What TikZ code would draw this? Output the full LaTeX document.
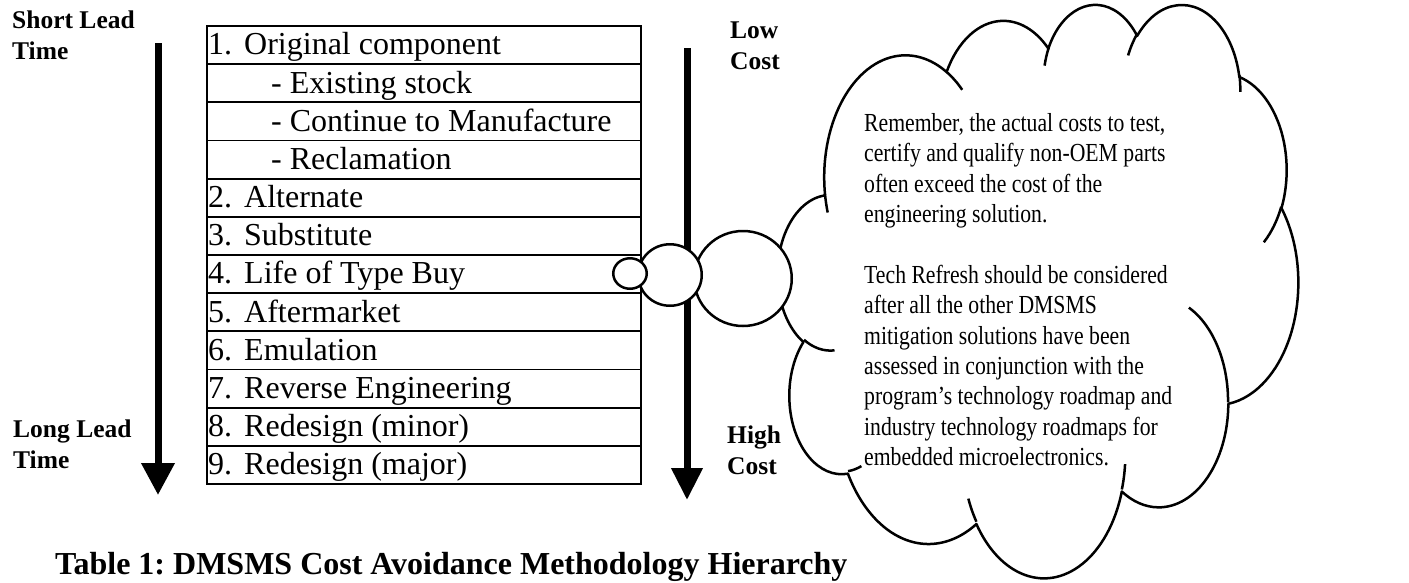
\documentclass[tikz,border=0pt]{standalone}
\usepackage{fontspec}
\setmainfont{Liberation Serif}
\newfontfamily\cloudfont[FakeStretch=0.835]{Liberation Serif}
\usetikzlibrary{arrows.meta, shapes.geometric}
\frenchspacing
\tikzstyle{cell}=[rectangle, draw, line width=1.8pt, minimum width=434pt, minimum height=38.17pt, inner sep=0pt]
\tikzstyle{item}=[anchor=base west, inner sep=0pt, font=\fontsize{32}{38}\selectfont]
\tikzstyle{side}=[anchor=north west, align=left, inner sep=0pt, font=\bfseries\fontsize{25.5}{31}\selectfont]
\tikzstyle{bubble}=[ellipse, draw, fill=white, line width=2.5pt, inner sep=0pt]
\tikzstyle{heavy}=[line width=7pt, -{Triangle[width=32pt, length=32pt]}]
\tikzstyle{puffline}=[line width=2.5pt, line join=round]
\tikzset{puff/.style n args={4}{x radius=#1, y radius=#2,
    start angle={atan2(#1*sin(#3), #2*cos(#3))},
    delta angle={Mod(atan2(#1*sin(#3+#4), #2*cos(#3+#4))-atan2(#1*sin(#3), #2*cos(#3)), 360)}}}

\begin{document}
\begin{tikzpicture}[x=1pt, y=-1pt]

\useasboundingbox (0,0) rectangle (1409,582);
\fill[white] (0,0) rectangle (1409,582);

% Table of options
\foreach \num/\gap/\entry [count=\r] in {1./244/Original component, /271/- Existing stock, /271/- Continue to Manufacture, /271/- Reclamation, 2./244/Alternate, 3./244/Substitute, 4./244/Life of Type Buy, 5./244/Aftermarket, 6./244/Emulation, 7./244/Reverse Engineering, 8./244/Redesign (minor), 9./244/Redesign (major)}
{
    \node[cell] (row\r) at (424, {26+38.17*(\r-0.5)}) {};
    \node[item] (num\r) at (208, {26+38.17*\r-9.2}) {\num};
    \node[item] (entry\r) at (\gap, {26+38.17*\r-9.2}) {\entry};
}

% Lead time
\node[side] (shortlead) at (12,11) {Short Lead\\Time};
\node[side] (longlead) at (13,419.6) {Long Lead\\Time};
\coordinate (leadtop) at (158,43);
\coordinate (leadend) at (158,495);
\draw[heavy] (leadtop) -- (leadend);

% Cost
\node[side] (lowcost) at (730,22) {Low\\Cost};
\node[side] (highcost) at (727,425.6) {High\\Cost};
\coordinate (costtop) at (687,48);
\coordinate (costend) at (687,500);
\draw[heavy, -{Triangle[width=30pt, length=32pt]}] (costtop) -- (costend);

% Cloud
\begin{scope}[shift={(778,3)}, x=1.204pt, y=-1.327pt]
  \draw[puffline, fill=white] (39,143.7)
    arc[puff={67.53}{91.90}{-190.4875}{123.7805}]
    arc[puff={53.33}{72.67}{-144.1024}{89.9452}]
    arc[puff={43.65}{59.45}{-145.8079}{99.7230}]
    arc[puff={48.57}{65.95}{-130.9861}{117.2417}]
    arc[puff={53.33}{72.73}{-78.7089}{109.0269}]
    arc[puff={67.75}{92.20}{-46.2673}{130.2690}]
    arc[puff={57.85}{78.67}{0.6250}{114.0333}]
    arc[puff={67.52}{92.15}{22.4516}{115.1726}]
    arc[puff={77.20}{105.43}{66.2426}{75.7110}]
    arc[puff={43.60}{59.18}{-274.9421}{146.7356}]
    arc[puff={43.45}{59.45}{-246.8285}{152.5189}]
    -- cycle;
  % inner ends of the puffs
  \draw[puffline] (46.93,261.77) arc[puff={43.45}{59.45}{86.742}{26.430}]
    (69.28,348.99) arc[puff={43.60}{59.18}{73.610}{11.447}]
    (164.78,390.90) arc[puff={67.52}{92.15}{137.624}{14.081}]
    (288.27,347.51) arc[puff={67.52}{92.15}{6.453}{15.998}]
    (341.29,229.54) arc[puff={57.85}{78.67}{-70.292}{70.917}]
    (417.98,153.54) arc[puff={53.33}{72.73}{30.318}{27.752}]
    (383.24,54.26) arc[puff={48.57}{65.95}{-13.744}{14.859}]
    (290.78,39.52) arc[puff={48.57}{65.95}{-149.181}{18.195}]
    (221.41,47.20) arc[puff={43.65}{59.45}{-163.494}{17.686}]
    (140.00,51.92) arc[puff={67.53}{91.90}{-66.707}{12.319}]
    (41.27,157.89) arc[puff={67.53}{91.90}{157.654}{11.858}];
\end{scope}

% Thought bubbles
\node[bubble, minimum width=97.5pt, minimum height=95pt] (bubblebig) at (743,278.5) {};
\node[bubble, minimum width=63.5pt, minimum height=61.5pt] (bubblemid) at (670,275) {};
\node[bubble, minimum width=33.5pt, minimum height=30.5pt] (bubblesmall) at (630,273.5) {};

\node[anchor=north west, align=left, inner sep=0pt, font=\cloudfont\fontsize{26}{30.4}\selectfont] (note) at (864,113) {Remember, the actual costs to test,\\certify and qualify non-OEM parts\\often exceed the cost of the\\engineering solution.\\[30.4pt]Tech Refresh should be considered\\after all the other DMSMS\\mitigation solutions have been\\assessed in conjunction with the\\program’s technology roadmap and\\industry technology roadmaps for\\embedded microelectronics.};

\node[anchor=base west, inner sep=0pt, font=\bfseries\fontsize{32}{38}\selectfont] (caption) at (55,574) {Table 1: DMSMS Cost Avoidance Methodology Hierarchy};

\end{tikzpicture}
\end{document}
